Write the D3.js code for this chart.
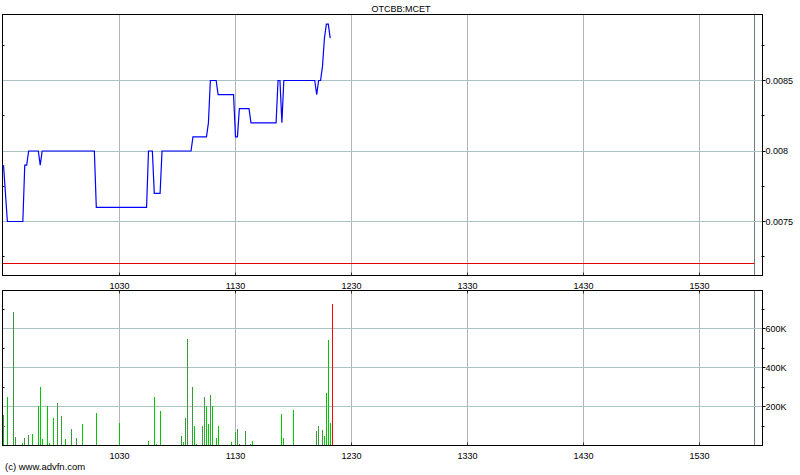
<!DOCTYPE html>
<html>
<head>
<meta charset="utf-8">
<script src="https://cdn.jsdelivr.net/npm/d3@7"></script>
<style>
  html, body { margin: 0; padding: 0; background: #fff; }
  svg { display: block; }
  text { font-family: "Liberation Sans", Arial, sans-serif; font-size: 9px; fill: #000; }
</style>
</head>
<body>
<svg id="chart" width="800" height="475"></svg>
<script>
// ---------------- DATA ----------------
const title = "OTCBB:MCET";
const copyright = "(c) www.advfn.com";

// price: minutes after 09:30 and price
const priceMin = [0, 2, 10, 11, 12, 13, 18, 19, 20, 47, 48, 74, 75, 77, 78, 81, 82, 97, 98, 105, 106, 107, 110, 111,
                  119, 120, 121, 122, 127, 128, 141, 142, 143, 144, 145, 161, 162, 163, 164, 165, 166, 167, 168, 169];
const priceVal = [0.0079, 0.0075, 0.0075, 0.0079, 0.0079, 0.0080, 0.0080, 0.0079, 0.0080, 0.0080, 0.0076, 0.0076,
                  0.0080, 0.0080, 0.0077, 0.0077, 0.0080, 0.0080, 0.0081, 0.0081, 0.0082, 0.0085, 0.0085, 0.0084,
                  0.0084, 0.0081, 0.0081, 0.0083, 0.0083, 0.0082, 0.0082, 0.0085, 0.0085, 0.0082, 0.0085, 0.0085,
                  0.0084, 0.0085, 0.0085, 0.0086, 0.0088, 0.0089, 0.0089, 0.0088];
const prevClose = 0.0072;

// volume: minutes after 09:30, volume in thousands, kind (g = up, m = mixed, r = last)
const volMin  = [0, 2, 5, 6, 10, 11, 13, 15, 18, 19, 20, 23, 24, 26, 28, 30, 32, 35, 38, 41, 48, 60,
                 75, 78, 79, 81, 92, 93, 94, 95, 98, 99, 100, 103, 104, 105, 106, 107, 108, 110, 111,
                 118, 120, 121, 122, 125, 128, 129, 144, 145, 150, 162, 163, 165, 166, 167, 168, 169, 170];
const volK    = [155, 248, 684, 43, 12, 38, 53, 58, 202, 299, 32, 202, 12, 140, 217, 150, 32, 84, 38, 109, 166, 115,
                 22, 248, 7, 176, 48, 17, 140, 545, 299, 99, 7, 99, 248, 202, 109, 258, 202, 38, 99,
                 17, 68, 84, 7, 73, 7, 22, 161, 38, 181, 73, 99, 79, 48, 268, 540, 115, 725];
const volKind = ["m","g","m","m","g","m","m","g","g","g","g","g","g","g","m","m","g","m","m","g","g","g",
                 "g","g","g","g","m","g","m","m","m","g","g","m","m","g","g","m","g","g","g",
                 "g","m","m","g","m","g","g","g","g","g","m","m","m","g","g","g","g","r"];

// axes
const hourTicks  = [60, 120, 180, 240, 300, 360];           // minutes after 09:30
const hourLabels = ["1030", "1130", "1230", "1330", "1430", "1530"];
const sessionMarker = 388.4;                                 // closing marker (minutes after 09:30)
const priceTicks  = [0.0075, 0.008, 0.0085];
const priceLabels = ["0.0075", "0.008", "0.0085"];
const priceMinor  = [0.00725, 0.00775, 0.00825, 0.00875];
const volTicks  = [200, 400, 600];
const volLabels = ["200K", "400K", "600K"];
const volMinor  = [100, 300, 500, 700];

// ---------------- LAYOUT ----------------
const svg = d3.select("#chart");
const L = 2.5, R = 762.5;
const top1 = 14.5, bot1 = 275.5;
const top2 = 290.5, bot2 = 445.5;

const x = d3.scaleLinear().domain([0, 392.6]).range([3.5, 762.5]);
const yP = d3.scaleLinear().domain([0.0075, 0.0085]).range([221.5, 80.5]);
const yV = d3.scaleLinear().domain([0, 600]).range([bot2, 328.5]);
const snap = v => Math.floor(v) + 0.5;

const hGrid = "#a9c2c2", vGrid = "#b4b4b4";

function panelGrid(yTop, yBot, yVals, yScale, minorVals) {
  const g = svg.append("g");
  g.selectAll(".vg").data(hourTicks).enter().append("line")
    .attr("x1", d => snap(x(d))).attr("x2", d => snap(x(d)))
    .attr("y1", yTop).attr("y2", yBot)
    .attr("stroke", vGrid).attr("stroke-width", 1);
  g.append("line")
    .attr("x1", snap(x(sessionMarker))).attr("x2", snap(x(sessionMarker)))
    .attr("y1", yTop).attr("y2", yBot)
    .attr("stroke", "#6e7e7e").attr("stroke-width", 1);
  g.selectAll(".hg").data(yVals).enter().append("line")
    .attr("x1", L).attr("x2", R)
    .attr("y1", d => snap(yScale(d))).attr("y2", d => snap(yScale(d)))
    .attr("stroke", hGrid).attr("stroke-width", 1);
  g.selectAll(".rt").data(yVals).enter().append("line")
    .attr("x1", R).attr("x2", R + 3)
    .attr("y1", d => snap(yScale(d))).attr("y2", d => snap(yScale(d)))
    .attr("stroke", "#000");
  const inside = minorVals.filter(v => yScale(v) > yTop && yScale(v) < yBot);
  g.selectAll(".rm").data(inside).enter().append("line")
    .attr("x1", R - 1).attr("x2", R + 2)
    .attr("y1", d => snap(yScale(d))).attr("y2", d => snap(yScale(d)))
    .attr("stroke", "#000");
  g.selectAll(".lm").data(inside).enter().append("line")
    .attr("x1", L).attr("x2", L + 2)
    .attr("y1", d => snap(yScale(d))).attr("y2", d => snap(yScale(d)))
    .attr("stroke", "#000");
  g.selectAll(".bt").data(hourTicks).enter().append("line")
    .attr("x1", d => snap(x(d))).attr("x2", d => snap(x(d)))
    .attr("y1", yBot - 3).attr("y2", yBot)
    .attr("stroke", "#333");
  return g;
}

// ---------------- PRICE PANEL ----------------
panelGrid(top1, bot1, priceTicks, yP, priceMinor);

svg.append("line")
  .attr("x1", L).attr("x2", snap(x(sessionMarker)))
  .attr("y1", snap(yP(prevClose))).attr("y2", snap(yP(prevClose)))
  .attr("stroke", "#e00000").attr("stroke-width", 1);

const priceData = priceMin.map((m, i) => [m, priceVal[i]]);
svg.append("path")
  .datum(priceData)
  .attr("d", d3.line().x(d => x(d[0])).y(d => yP(d[1])))
  .attr("fill", "none").attr("stroke", "#0000ff").attr("stroke-width", 1.2)
  .attr("stroke-linejoin", "miter");

svg.append("rect").attr("x", L).attr("y", top1).attr("width", R - L).attr("height", bot1 - top1)
  .attr("fill", "none").attr("stroke", "#000").attr("stroke-width", 1);

svg.selectAll(".pl").data(priceTicks).enter().append("text")
  .attr("x", R + 3).attr("y", d => yP(d) + 3.2)
  .text((d, i) => priceLabels[i]);

svg.append("text").attr("x", 401).attr("y", 11.5).attr("text-anchor", "middle").text(title);

// ---------------- VOLUME PANEL ----------------
panelGrid(top2, bot2, volTicks, yV, volMinor);
svg.selectAll(".tt").data(hourTicks).enter().append("line")
  .attr("x1", d => snap(x(d))).attr("x2", d => snap(x(d)))
  .attr("y1", top2).attr("y2", top2 + 3).attr("stroke", "#333");

const volData = volMin.map((m, i) => ({ m, v: volK[i], k: volKind[i] }));
const bars = svg.append("g");
bars.selectAll("line.base").data(volData).enter().append("line")
  .attr("x1", d => snap(x(d.m))).attr("x2", d => snap(x(d.m)))
  .attr("y1", d => yV(d.v)).attr("y2", bot2 - 0.5)
  .attr("stroke", d => d.k === "r" ? "#ff0000" : "#00c800")
  .attr("stroke-width", 1).attr("shape-rendering", "crispEdges");
bars.selectAll("line.dash").data(volData.filter(d => d.k === "m")).enter().append("line")
  .attr("x1", d => snap(x(d.m))).attr("x2", d => snap(x(d.m)))
  .attr("y1", d => yV(d.v)).attr("y2", bot2 - 0.5)
  .attr("stroke", "#707070").attr("stroke-dasharray", "1,1")
  .attr("stroke-width", 1).attr("shape-rendering", "crispEdges");

svg.append("rect").attr("x", L).attr("y", top2).attr("width", R - L).attr("height", bot2 - top2)
  .attr("fill", "none").attr("stroke", "#000").attr("stroke-width", 1);

svg.selectAll(".vl").data(volTicks).enter().append("text")
  .attr("x", R + 3).attr("y", d => yV(d) + 3.2)
  .text((d, i) => volLabels[i]);

svg.selectAll(".xl1").data(hourTicks).enter().append("text")
  .attr("x", d => snap(x(d))).attr("y", 288.5).attr("text-anchor", "middle")
  .text((d, i) => hourLabels[i]);
svg.selectAll(".xl2").data(hourTicks).enter().append("text")
  .attr("x", d => snap(x(d))).attr("y", 458.5).attr("text-anchor", "middle")
  .text((d, i) => hourLabels[i]);

svg.append("text").attr("x", 5).attr("y", 470).style("font-size", "9.5px").text(copyright);
</script>
</body>
</html>
